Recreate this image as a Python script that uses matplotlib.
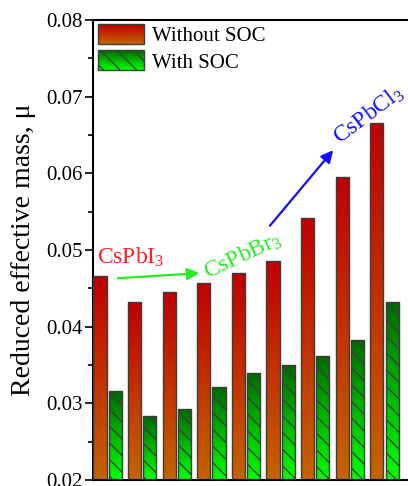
import numpy as np
import matplotlib
matplotlib.use("Agg")
import matplotlib.pyplot as plt
from matplotlib.colors import LinearSegmentedColormap
from matplotlib.legend_handler import HandlerBase
from matplotlib.patches import Rectangle, Patch
from matplotlib.ticker import MultipleLocator, FormatStrFormatter

# data
groups = np.arange(9)
without_soc = [0.0466, 0.0432, 0.0445, 0.0457, 0.0470, 0.0486, 0.0542, 0.0595, 0.0666]
with_soc = [0.0316, 0.0283, 0.0293, 0.0321, 0.0340, 0.0350, 0.0362, 0.0383, 0.0432]
labels = ["Without SOC", "With SOC"]

plt.rcParams['font.family'] = ['Liberation Serif', 'DejaVu Serif']
plt.rcParams['mathtext.fontset'] = 'custom'
plt.rcParams['mathtext.rm'] = 'Liberation Serif'
plt.rcParams['mathtext.it'] = 'Liberation Serif:italic'
plt.rcParams['hatch.linewidth'] = 0.9

red_cmap = LinearSegmentedColormap.from_list('red', ['#c46400', '#c00000'])
green_cmap = LinearSegmentedColormap.from_list('green', ['#00ff00', '#006a00'])
grad = np.linspace(0, 1, 200).reshape(-1, 1)
edge = '#3c3c3c'
hatch = '\\\\'


class GradHandler(HandlerBase):
    def __init__(self, cmap, hatch=None):
        super().__init__()
        self.cmap = cmap
        self.hatch = hatch

    def create_artists(self, legend, orig_handle, xdescent, ydescent,
                       width, height, fontsize, trans):
        arts = []
        n = 40
        for k in range(n):
            arts.append(Rectangle((-xdescent, -ydescent + height * k / n), width,
                                  height / n * 1.1, facecolor=self.cmap(k / (n - 1)),
                                  edgecolor='none', transform=trans))
        arts.append(Rectangle((-xdescent, -ydescent), width, height, facecolor='none',
                              edgecolor=edge, hatch=self.hatch, lw=1, transform=trans))
        return arts


fig = plt.figure(figsize=(4.08, 4.86), dpi=100)
ax = fig.add_axes([0.229, 0.0123, 0.771, 0.9465])

w = 0.38
off = 0.22


def gradient_bars(x, vals, cmap, htch):
    bars = ax.bar(x, vals, width=w, bottom=0.02, facecolor='none', edgecolor=edge,
                  linewidth=1, hatch=htch, zorder=3)
    for b in bars:
        x0, y0 = b.get_x(), b.get_y()
        im = ax.imshow(grad, cmap=cmap, origin='lower', aspect='auto',
                       extent=[x0, x0 + b.get_width(), y0, y0 + b.get_height()],
                       zorder=2)
        im.set_clip_path(b)
    return bars


gradient_bars(groups - off, np.array(without_soc) - 0.02, red_cmap, None)
gradient_bars(groups + off, np.array(with_soc) - 0.02, green_cmap, hatch)

ax.set_xlim(-0.41, 8.68)
ax.set_ylim(0.02, 0.08)
ax.yaxis.set_major_locator(MultipleLocator(0.01))
ax.yaxis.set_minor_locator(MultipleLocator(0.005))
ax.yaxis.set_major_formatter(FormatStrFormatter('%.2f'))
ax.set_xticks([])
ax.tick_params(axis='y', which='major', direction='out', length=6, width=1.2,
               labelsize=15, pad=2)
ax.tick_params(axis='y', which='minor', direction='out', length=3.5, width=1.2)
ax.spines['right'].set_visible(False)
for s in ['left', 'bottom', 'top']:
    ax.spines[s].set_linewidth(1.5)
ax.set_ylabel("Reduced effective mass, μ", fontsize=20, labelpad=7)

h1, h2 = Patch(), Patch()
ax.legend([h1, h2], labels, loc='upper left', frameon=False, fontsize=15,
          handlelength=2.25, handleheight=1.1, handletextpad=0.35,
          labelspacing=0.2, borderaxespad=0.1, borderpad=0.1,
          handler_map={h1: GradHandler(red_cmap), h2: GradHandler(green_cmap, hatch)})

ax.text(-0.30, 0.0490, "CsPbI$_3$", color='#ff2020', fontsize=17, ha='left', va='center')
ax.annotate("", xy=(2.73, 0.0470), xytext=(0.21, 0.0463),
            arrowprops=dict(arrowstyle='-|>', color='#22ee22', lw=1.6,
                            mutation_scale=18))
ax.text(3.92, 0.0492, "CsPbBr$_3$", color='#22ee22', fontsize=17, ha='center',
        va='center', rotation=25, rotation_mode='anchor')
ax.annotate("", xy=(6.57, 0.0633), xytext=(4.64, 0.0529),
            arrowprops=dict(arrowstyle='-|>', color='#1010ff', lw=1.6,
                            mutation_scale=18))
ax.text(7.55, 0.0676, "CsPbCl$_3$", color='#1010ff', fontsize=17, ha='center',
        va='center', rotation=37, rotation_mode='anchor')

fig.savefig('out.png', dpi=100)
